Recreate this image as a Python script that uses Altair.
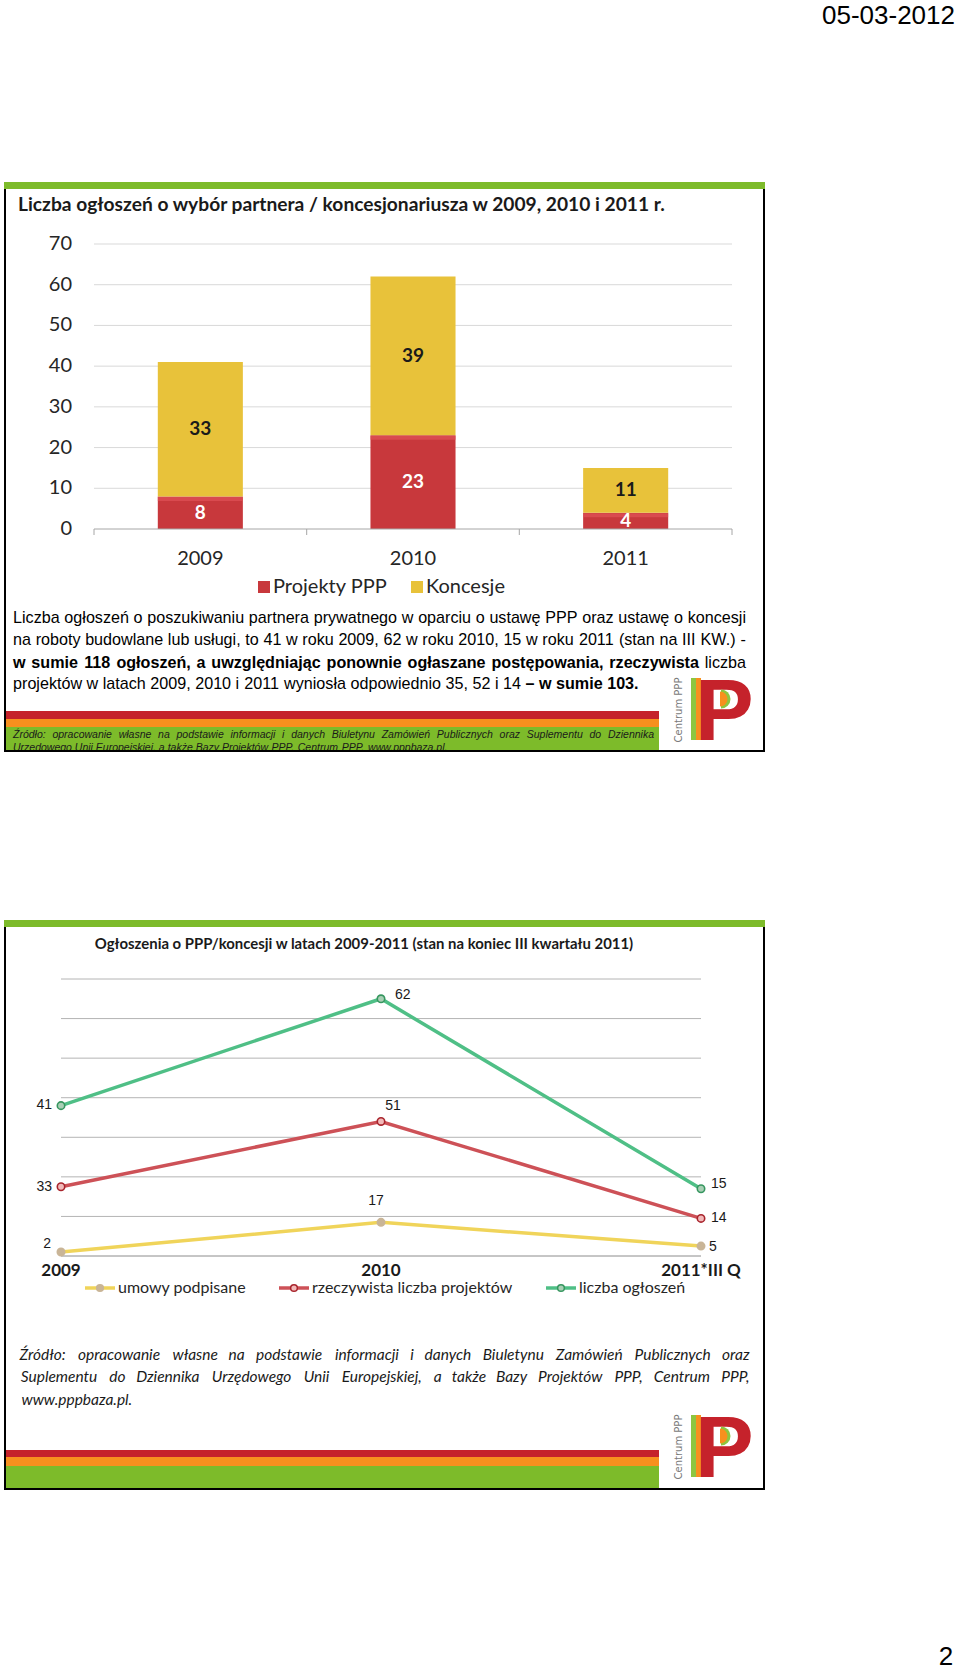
import altair as alt
import pandas as pd

# ======================= DATA =======================
date_text = "05-03-2012"
page_number = "2"
logo_caption = "Centrum PPP"

bar_title = "Liczba ogłoszeń o wybór partnera / koncesjonariusza w 2009, 2010 i 2011 r."
bar_years = ["2009", "2010", "2011"]
bar_series = ["Projekty PPP", "Koncesje"]
bar_projekty = [8, 23, 4]
bar_koncesje = [33, 39, 11]
bar_ticks = [0, 10, 20, 30, 40, 50, 60, 70]

paragraph = [
    [("Liczba ogłoszeń o poszukiwaniu partnera prywatnego w oparciu o ustawę PPP oraz ustawę o koncesji", "r")],
    [("na roboty budowlane lub usługi, to 41 w roku 2009, 62 w roku 2010, 15 w roku 2011 (stan na III KW.) -", "r")],
    [("w sumie 118 ogłoszeń, a uwzględniając ponownie ogłaszane postępowania, rzeczywista", "b"), ("liczba", "r")],
    [("projektów w latach 2009, 2010 i 2011 wyniosła odpowiednio 35, 52 i 14", "r"), ("– w sumie 103.", "b")],
]
source1 = [
    "Źródło: opracowanie własne na podstawie informacji i danych Biuletynu Zamówień Publicznych oraz Suplementu do Dziennika",
    "Urzędowego Unii Europejskiej, a także Bazy Projektów PPP, Centrum PPP, www.pppbaza.pl.",
]

line_title = "Ogłoszenia o PPP/koncesji w latach 2009-2011 (stan na koniec III kwartału 2011)"
line_years = ["2009", "2010", "2011*III Q"]
line_series = ["umowy podpisane", "rzeczywista liczba projektów", "liczba ogłoszeń"]
line_umowy = [2, 17, 5]
line_projekty = [33, 51, 14]
line_ogloszen = [41, 62, 15]
line_ticks = [0, 20, 40, 60, 80, 100, 120, 140]
source2 = [
    "Źródło: opracowanie własne na podstawie informacji i danych Biuletynu Zamówień Publicznych oraz",
    "Suplementu do Dziennika Urzędowego Unii Europejskiej, a także Bazy Projektów PPP, Centrum PPP,",
    "www.pppbaza.pl.",
]

# ======================= STYLE =======================
GREEN = "#7dbb2a"
ORANGE = "#f7901e"
DARKRED = "#c5222b"
bar_colors = ["#c8383c", "#e8c23a"]
bar_bevel = "#e05257"
bar_label_colors = ["#ffffff", "#1a1a1a"]
line_colors = ["#f0d45a", "#cd5157", "#4fbf86"]
marker_fill = ["#c9b597", "#f2b9b9", "#a9cfb5"]
marker_stroke = ["#c9b597", "#a8242c", "#36965f"]
CAL = "Lato"
ARIAL = "Liberation Sans"

# ---- approximate advance widths (1/1000 em) for text justification ----
def _tbl(groups, default):
    t = {}
    for chars, w in groups:
        for c in chars:
            t[c] = w
    t["_"] = default
    return t

ARIAL_R = _tbl([(" ", 278), ("abdeghnopquąęńó0123456789–", 556), ("ckszvxyćśźż", 500),
                ("ijlł", 222), ("ft,.:;/", 278), ("r-()", 333), ("m", 833), ("w", 722),
                ("ABEKPSVXYŚ", 667), ("CDHNRU", 722), ("GOQ", 778), ("FTZŹŻ", 611), ("I", 278),
                ("J", 500), ("LŁ", 556), ("M", 833), ("W", 944)], 556)
ARIAL_B = _tbl([(" ", 278), ("bdghnopquńó", 611), ("acekstvxyąęść0123456789–", 556),
                ("zźż", 500), ("ijlł,.:;", 278), ("ft-", 333), ("r", 389), ("m", 889), ("w", 778),
                ("ABCDHKNRU", 722), ("EPS", 667), ("GO", 778), ("FT", 611), ("I", 278),
                ("L", 611), ("M", 833), ("W", 944)], 611)
CALIBRI = _tbl([(" ", 226), ("a", 479), ("bdhnpquń", 525), ("c", 423), ("eę", 498), ("f", 305),
                ("g", 471), ("iljł", 229), ("k", 455), ("m", 799), ("oó", 527), ("r", 349),
                ("sś", 391), ("t", 335), ("v", 452), ("w", 715), ("x", 433), ("y", 453),
                ("zźż", 395), ("ą", 479), ("ć", 423), ("0123456789", 507), (",", 250), (".", 252),
                (":;", 268), ("-", 306), ("–*", 498), ("()", 303), ("/", 386),
                ("A", 579), ("B", 544), ("C", 533), ("D", 615), ("E", 488), ("F", 459),
                ("G", 631), ("H", 623), ("I", 252), ("J", 319), ("K", 520), ("L", 420),
                ("M", 855), ("N", 646), ("O", 662), ("P", 517), ("R", 543), ("S", 459),
                ("T", 487), ("U", 642), ("W", 890), ("ZŹŻ", 468)], 500)
TABLES = {"r": ARIAL_R, "b": ARIAL_B, "i": ARIAL_R, "c": CALIBRI}


def word_w(word, style, fs, scale=1.0):
    t = TABLES[style]
    return sum(t.get(c, t["_"]) for c in word) * fs * scale / 1000.0


def layout_line(segments, left, right, y, fs, scale=1.0, justify=True):
    toks = []
    for text, st in segments:
        for w in text.split(" "):
            if w:
                toks.append((w, st))
    widths = [word_w(w, st, fs, scale) for w, st in toks]
    if justify and len(toks) > 1:
        gap = (right - left - sum(widths)) / (len(toks) - 1)
    else:
        gap = TABLES[toks[0][1]][" "] * fs * scale / 1000.0
    rows, x = [], left
    for (w, st), wd in zip(toks, widths):
        rows.append({"word": w, "style": st, "cx": x + wd / 2.0, "y": y})
        x += wd + gap
    return rows


ONE = pd.DataFrame({"k": [0]})


def box(x1, y1, x2, y2, **kw):
    return alt.Chart(ONE).mark_rect(**kw).encode(
        x=alt.value(x1), x2=alt.value(x2), y=alt.value(y1), y2=alt.value(y2))


def label(x, y, s, **kw):
    kw.setdefault("baseline", "middle")
    return alt.Chart(ONE).mark_text(text=s, **kw).encode(x=alt.value(x), y=alt.value(y))


def words_layer(rows, style, **kw):
    df = pd.DataFrame([r for r in rows if r["style"] == style])
    if df.empty:
        return None
    return alt.Chart(df).mark_text(align="center", baseline="middle", **kw).encode(
        x=alt.X("cx:Q", scale=None, axis=None),
        y=alt.Y("y:Q", scale=None, axis=None),
        text="word:N")


def half_disc(cx, cy, r, color):
    return alt.Chart(ONE).mark_arc(radius=r, theta=0, theta2=3.14159, color=color).encode(
        x=alt.value(cx), y=alt.value(cy))


def logo(x0, y0):
    return [
        box(x0, y0 + 1, x0 + 5, y0 + 63, color="#8dc63f"),
        box(x0 + 5, y0 + 1, x0 + 10, y0 + 63, color=ORANGE),
        label(x0 + 4, y0 + 63, "P", baseline="alphabetic", align="left", font=ARIAL,
              fontWeight="bold", fontSize=88, color=DARKRED),
        half_disc(x0 + 30, y0 + 22, 9.5, "#8dc63f"),
        half_disc(x0 + 29, y0 + 22, 7.5, ORANGE),
        label(x0 - 12, y0 + 33, logo_caption, angle=270, align="center", font="DejaVu Sans",
              fontSize=10, color="#7a7a7a"),
    ]


layers = []

# ---------------- page header / footer ----------------
layers.append(label(955, 16, date_text, align="right", font=ARIAL, fontSize=26, color="#000"))
layers.append(label(946, 1657, page_number, align="center", font=ARIAL, fontSize=26, color="#000"))

# ======================= PANEL 1 =======================
P1 = dict(x1=5, y1=183, x2=764, y2=751)
layers.append(box(P1["x1"], P1["y1"], P1["x2"], P1["y2"], color="#ffffff"))
layers.append(label(18, 205, bar_title, align="left", font=CAL, fontWeight="bold",
                    fontSize=19.2, color="#1a1a1a"))

# bar chart (scales mapped into the panel's plot region)
bar_rows = []
for i, yr in enumerate(bar_years):
    bar_rows.append({"year": yr, "series": bar_series[0], "value": bar_projekty[i], "order": 0})
    bar_rows.append({"year": yr, "series": bar_series[1], "value": bar_koncesje[i], "order": 1})
bar_df = pd.DataFrame(bar_rows)
tick_df = pd.DataFrame({"t": bar_ticks})

xb = alt.X("year:N", axis=None, sort=bar_years,
           scale=alt.Scale(domain=bar_years, range=[94, 732], paddingInner=0.6, paddingOuter=0.3))
ysb = alt.Scale(domain=[0, 70], range=[529, 244], nice=False, zero=True)

bar_base = alt.Chart(bar_df).transform_stack(
    stack="value", groupby=["year"], sort=[alt.SortField("order", "ascending")], as_=["v0", "v1"]
).transform_calculate(mid="(datum.v0 + datum.v1) / 2")

grid_b = alt.Chart(tick_df).transform_filter("datum.t > 0").mark_rule(
    color="#d9d9d9", strokeWidth=1).encode(
    x=alt.value(94), x2=alt.value(732), y=alt.Y("t:Q", scale=ysb, axis=None))
axis_b = alt.Chart(tick_df).transform_filter("datum.t == 0").mark_rule(
    color="#a6a6a6", strokeWidth=1).encode(
    x=alt.value(94), x2=alt.value(732), y=alt.Y("t:Q", scale=ysb, axis=None))
ticklab_b = alt.Chart(tick_df).mark_text(align="right", baseline="middle", font=CAL,
                                         fontSize=20, color="#262626").encode(
    x=alt.value(72), y=alt.Y("t:Q", scale=ysb, axis=None), text="t:Q")
bars = bar_base.mark_bar().encode(
    x=xb, y=alt.Y("v0:Q", scale=ysb, axis=None), y2="v1:Q",
    color=alt.Color("series:N", scale=alt.Scale(domain=bar_series, range=bar_colors), legend=None))
bevel = bar_base.transform_filter(alt.FieldEqualPredicate(field="series", equal=bar_series[0])).mark_tick(
    thickness=4, size=85, color=bar_bevel, orient="horizontal").encode(
    x=xb, y=alt.Y("v1:Q", scale=ysb, axis=None), yOffset=alt.value(2.5))
bar_text = bar_base.mark_text(font=CAL, fontWeight="bold", fontSize=19, baseline="middle").encode(
    x=xb, y=alt.Y("mid:Q", scale=ysb, axis=None), text="value:Q",
    color=alt.Color("series:N", scale=alt.Scale(domain=bar_series, range=bar_label_colors), legend=None))
cat_b = alt.Chart(pd.DataFrame({"year": bar_years})).mark_text(
    font=CAL, fontSize=20, color="#262626", baseline="middle").encode(
    x=xb, y=alt.value(559), text="year:N")
bar_group = alt.layer(grid_b, bars, bevel, axis_b, bar_text, ticklab_b, cat_b).resolve_scale(color="independent")
layers.append(bar_group)

# band edge ticks on the category axis
for xe in [94, 306.7, 519.3, 732]:
    layers.append(alt.Chart(ONE).mark_rule(color="#a6a6a6").encode(
        x=alt.value(xe), y=alt.value(529), y2=alt.value(535)))

# bar legend
leg_x = [264, 417]
for i, s in enumerate(bar_series):
    layers.append(box(leg_x[i] - 6, 581, leg_x[i] + 6, 593, color=bar_colors[i]))
    layers.append(label(leg_x[i] + 9, 587, s, align="left", font=CAL, fontSize=20, color="#262626"))

# paragraph (justified)
fs_para = 508.0 / (sum(word_w(w, "r", 1) for w in paragraph[3][0][0].split(" "))
                   + (len(paragraph[3][0][0].split(" ")) - 1) * 0.278)
para_rows = []
para_y = [617.5, 640, 662.5, 684]
for i, segs in enumerate(paragraph):
    para_rows += layout_line(segs, 13, 746, para_y[i], fs_para, justify=(i < 3))
for st, wt in [("r", "normal"), ("b", "bold")]:
    lay = words_layer(para_rows, st, font=ARIAL, fontSize=fs_para, fontWeight=wt, color="#000")
    if lay is not None:
        layers.append(lay)

# bottom stripes + source
layers.append(box(5, 711, 659, 719, color=DARKRED))
layers.append(box(5, 719, 659, 727, color=ORANGE))
layers.append(box(5, 727, 659, 751, color=GREEN))
src1_rows = layout_line([(source1[0], "i")], 13, 654, 735, 10.5, justify=True)
src1_rows += layout_line([(source1[1], "i")], 13, 654, 748, 10.5, justify=False)
layers.append(words_layer(src1_rows, "i", font=ARIAL, fontSize=10.5, fontStyle="italic",
                          color="#1a1a1a"))
layers.append(box(0, 751, 960, 762, color="#ffffff"))
layers += logo(691, 677)
layers.append(box(P1["x1"], P1["y1"], P1["x2"], P1["y2"], fillOpacity=0, stroke="#000", strokeWidth=2))
layers.append(box(P1["x1"] - 1, P1["y1"] - 1, P1["x2"] + 1, P1["y1"] + 6, color=GREEN))

# ======================= PANEL 2 =======================
P2 = dict(x1=5, y1=921, x2=764, y2=1489)
layers.append(label(364, 945, line_title, align="center", font=CAL, fontWeight="bold",
                    fontSize=14.9, color="#1a1a1a"))

line_rows = []
vals = [line_umowy, line_projekty, line_ogloszen]
for si, s in enumerate(line_series):
    for yi, yr in enumerate(line_years):
        line_rows.append({"year": yr, "series": s, "value": vals[si][yi], "order": si})
line_df = pd.DataFrame(line_rows)
ltick_df = pd.DataFrame({"t": line_ticks})

xl = alt.X("year:N", axis=None, sort=line_years,
           scale=alt.Scale(type="point", domain=line_years, range=[61, 701], padding=0))
ysl = alt.Scale(domain=[0, 140], range=[1256, 979], nice=False, zero=True)

line_base = alt.Chart(line_df).transform_stack(
    stack="value", groupby=["year"], sort=[alt.SortField("order", "ascending")], as_=["v0", "v1"])

grid_l = alt.Chart(ltick_df).transform_filter("datum.t > 0").mark_rule(
    color="#b4b4b4", strokeWidth=1).encode(
    x=alt.value(61), x2=alt.value(701), y=alt.Y("t:Q", scale=ysl, axis=None))
axis_l = alt.Chart(ltick_df).transform_filter("datum.t == 0").mark_rule(
    color="#8c8c8c", strokeWidth=1).encode(
    x=alt.value(61), x2=alt.value(701), y=alt.Y("t:Q", scale=ysl, axis=None))
lines = line_base.mark_line(strokeWidth=3.5).encode(
    x=xl, y=alt.Y("v1:Q", scale=ysl, axis=None),
    color=alt.Color("series:N", scale=alt.Scale(domain=line_series, range=line_colors), legend=None))
pts = line_base.mark_point(shape="circle", filled=True, size=55, strokeWidth=1.6, opacity=1).encode(
    x=xl, y=alt.Y("v1:Q", scale=ysl, axis=None),
    fill=alt.Fill("series:N", scale=alt.Scale(domain=line_series, range=marker_fill), legend=None),
    stroke=alt.Stroke("series:N", scale=alt.Scale(domain=line_series, range=marker_stroke), legend=None))


def vlabels(filters, align, dx, dy):
    c = line_base
    for f, v in filters:
        c = c.transform_filter(alt.FieldEqualPredicate(field=f, equal=v))
    return c.mark_text(font=ARIAL, fontSize=14, color="#1a1a1a", baseline="middle",
                       align=align, dx=dx, dy=dy).encode(
        x=xl, y=alt.Y("v1:Q", scale=ysl, axis=None), text="value:Q")


lab_layers = [
    vlabels([("year", line_years[0]), ("series", line_series[2])], "right", -9, -1),
    vlabels([("year", line_years[0]), ("series", line_series[1])], "right", -9, 0),
    vlabels([("year", line_years[0]), ("series", line_series[0])], "right", -10, -8),
    vlabels([("year", line_years[2]), ("series", line_series[2])], "left", 10, -5),
    vlabels([("year", line_years[2]), ("series", line_series[1])], "left", 10, 0),
    vlabels([("year", line_years[2]), ("series", line_series[0])], "left", 8, 1),
    vlabels([("year", line_years[1]), ("series", line_series[2])], "left", 14, -4),
    vlabels([("year", line_years[1]), ("series", line_series[1])], "center", 12, -15),
    vlabels([("year", line_years[1]), ("series", line_series[0])], "center", -5, -21),
]
cat_l = alt.Chart(pd.DataFrame({"year": line_years})).mark_text(
    font=CAL, fontWeight="bold", fontSize=17, color="#1a1a1a", baseline="middle").encode(
    x=xl, y=alt.value(1271), text="year:N")
line_group = alt.layer(grid_l, axis_l, lines, pts, *lab_layers, cat_l)
layers.append(line_group)

# line legend
lleg_x = [100, 294, 561]
for i, s in enumerate(line_series):
    layers.append(alt.Chart(ONE).mark_rule(color=line_colors[i], strokeWidth=3.5).encode(
        x=alt.value(lleg_x[i] - 15), x2=alt.value(lleg_x[i] + 15), y=alt.value(1288)))
    layers.append(alt.Chart(ONE).mark_point(shape="circle", filled=True, size=45, opacity=1,
                                            fill=marker_fill[i], stroke=marker_stroke[i],
                                            strokeWidth=1.5).encode(
        x=alt.value(lleg_x[i]), y=alt.value(1288)))
    layers.append(label(lleg_x[i] + 18, 1288, s, align="left", font=CAL, fontSize=16, color="#262626"))

# source text (justified)
src2_rows = []
src2_y = [1355, 1377, 1399.5]
for i, s in enumerate(source2):
    src2_rows += layout_line([(s, "c")], 19, 750, src2_y[i], 15.5, scale=1.05, justify=(i < 2))
layers.append(words_layer(src2_rows, "c", font=CAL, fontSize=15.5, fontStyle="italic", color="#1a1a1a"))

# stripes + logo + frame
layers.append(box(5, 1450, 659, 1457, color=DARKRED))
layers.append(box(5, 1457, 659, 1466, color=ORANGE))
layers.append(box(5, 1466, 659, 1489, color=GREEN))
layers += logo(691, 1414)
layers.append(box(P2["x1"], P2["y1"], P2["x2"], P2["y2"], fillOpacity=0, stroke="#000", strokeWidth=2))
layers.append(box(P2["x1"] - 1, P2["y1"] - 1, P2["x2"] + 1, P2["y1"] + 6, color=GREEN))

chart = alt.layer(*layers).resolve_scale(
    x="independent", y="independent", color="independent", fill="independent", stroke="independent"
).properties(
    width=960, height=1672, padding=0, background="#ffffff",
    autosize=alt.AutoSizeParams(type="none"),
).configure_view(strokeWidth=0)

chart.save("out.html", embed_options={"renderer": "svg", "actions": False})
